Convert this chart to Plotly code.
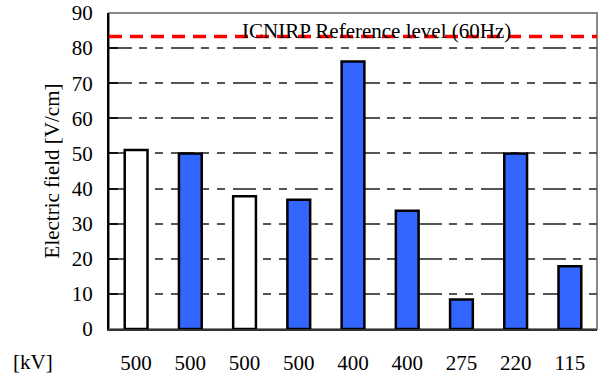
import plotly.graph_objects as go

voltages = ["500", "500", "500", "500", "400", "400", "275", "220", "115"]
fields = [51, 50, 37.8, 36.8, 76.2, 33.7, 8.4, 50, 17.9]
filled = [False, True, False, True, True, True, True, True, True]
ref_level = 83.3
ref_label = "ICNIRP Reference level (60Hz)"

x_idx = list(range(len(voltages)))
colors = ["#3366FF" if f else "#FFFFFF" for f in filled]

font = dict(family="Times New Roman, Liberation Serif, DejaVu Serif, serif", size=21, color="#000")

fig = go.Figure()
fig.add_trace(go.Bar(
    x=x_idx, y=fields,
    marker=dict(color=colors, line=dict(color="#000", width=2.5)),
    width=0.42,
))
fig.add_shape(type="line", xref="paper", x0=0, x1=1, yref="y", y0=ref_level, y1=ref_level,
              line=dict(color="#FF0000", width=3.5, dash="13px,8px"))
fig.add_annotation(xref="paper", x=0.549, yref="y", y=ref_level, text=ref_label,
                   showarrow=False, yanchor="bottom", yshift=-8, font=font)
fig.add_annotation(xref="paper", x=-0.156, yref="paper", y=-0.105, text="[kV]",
                   showarrow=False, yanchor="middle", xanchor="center", font=font)

fig.update_layout(
    width=600, height=377,
    margin=dict(l=109, r=3, t=13, b=48, autoexpand=False),
    paper_bgcolor="white", plot_bgcolor="white",
    showlegend=False,
    font=font,
    xaxis=dict(
        tickvals=x_idx, ticktext=voltages, range=[-0.5, len(voltages) - 0.5],
        showgrid=False, showline=True, linecolor="#333", linewidth=2, mirror=False,
        ticks="", ticklabelstandoff=14, tickfont=font, automargin=False,
    ),
    yaxis=dict(
        range=[0, 90], dtick=10, showline=True, linecolor="#000", linewidth=2,
        ticks="inside", ticklen=9, tickcolor="#111", tickwidth=1.5,
        showgrid=True, gridcolor="#555", griddash="23px,7px,8px,8px,8px,8px", gridwidth=1.5,
        title=dict(text="Electric field [V/cm]", font=font, standoff=6),
        tickfont=font, zeroline=False, ticklabelstandoff=10, automargin=False,
    ),
)
fig.add_shape(type="rect", xref="paper", yref="paper", x0=0, x1=1, y0=0, y1=1,
              line=dict(color="#888", width=2), layer="below")

fig.write_html("out.html")
